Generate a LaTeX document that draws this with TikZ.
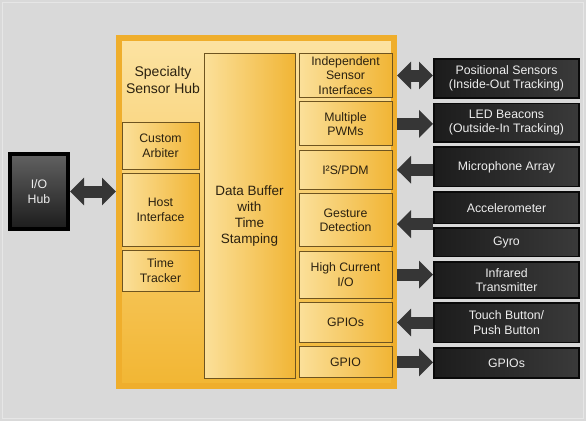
\documentclass[tikz,border=0pt]{standalone}
\usepackage{fontspec}
\setmainfont{Liberation Sans}
\usetikzlibrary{positioning, arrows.meta}
\definecolor{bggray}{HTML}{D9D9D9}
\definecolor{bgedge}{HTML}{E6E6E6}
\definecolor{hubedge}{HTML}{EFAE2C}
\definecolor{hubtop}{HTML}{FCE3A2}
\definecolor{hubbottom}{HTML}{F2B633}
\definecolor{blocklight}{HTML}{FBE09A}
\definecolor{blockdark}{HTML}{F1B535}
\definecolor{blockedge}{HTML}{6E5420}
\definecolor{blocktext}{HTML}{2B2110}
\definecolor{devleft}{HTML}{1C1C1C}
\definecolor{devright}{HTML}{3A3A3A}
\definecolor{devedge}{HTML}{0A0A0A}
\definecolor{devtext}{HTML}{EEEEEE}
\definecolor{arrowdark}{HTML}{363636}

\begin{document}
\begin{tikzpicture}[
    x=1pt, y=-1pt,
    node distance=3.5pt,
    every node/.style={rectangle, inner sep=0pt, align=center, font=\fontsize{12.3}{14.5}\selectfont},
    hubpanel/.style={draw=hubedge, line width=6pt, top color=hubtop, bottom color=hubbottom},
    block/.style={draw=blockedge, line width=0.9pt, left color=blocklight, right color=blockdark, text=blocktext},
    sideblock/.style={block, minimum width=77pt},
    portblock/.style={block, minimum width=93pt},
    device/.style={draw=devedge, line width=1.6pt, left color=devleft, right color=devright, text=devtext, minimum width=145.4pt},
    iohub/.style={draw=black, line width=4pt, top color=devright!80!white, bottom color=devleft, text=devtext},
    bus/.style={line width=12pt, draw=arrowdark},
    outarrow/.style={bus, -{Triangle[length=14pt, width=27pt]}},
    biarrow/.style={bus, {Triangle[length=14pt, width=27pt]}-{Triangle[length=14pt, width=27pt]}}
]
\useasboundingbox (0,0) rectangle (586,421);
\fill[bggray] (0,0) rectangle (586,421);
\draw[bgedge, line width=1pt] (2.5,2.5) rectangle (583.5,418.5);

% sensor hub
\node[hubpanel, minimum width=275pt, minimum height=348pt] (hub) at (256.5,212) {};
\node[text=blocktext, font=\fontsize{14}{17}\selectfont] (title) at (163,80) {Specialty\\Sensor Hub};

\node[sideblock, minimum height=47pt] (arb) at (160.5,146) {Custom\\Arbiter};
\node[sideblock, minimum height=73pt, below=3pt of arb] (host) {Host\\Interface};
\node[sideblock, minimum height=41pt, below=3pt of host] (tt) {Time\\Tracker};

\node[block, minimum width=91pt, minimum height=325pt, font=\fontsize{13.5}{16.3}\selectfont] (buf) at (249.5,216) {Data Buffer\\with\\Time\\Stamping};

\node[portblock, minimum height=44pt] (p1) at (345.5,75.5) {Independent\\Sensor\\Interfaces};
\node[portblock, minimum height=44pt, below=of p1] (p2) {Multiple\\PWMs};
\node[portblock, minimum height=39pt, below=of p2] (p3) {I²S/PDM};
\node[portblock, minimum height=53pt, below=of p3] (p4) {Gesture\\Detection};
\node[portblock, minimum height=47pt, below=of p4] (p5) {High Current\\I/O};
\node[portblock, minimum height=40pt, below=of p5] (p6) {GPIOs};
\node[portblock, minimum height=31pt, below=of p6] (p7) {GPIO};

% external devices
\node[device, minimum height=39.4pt] (e1) at (506.5,78.5) {Positional Sensors\\(Inside-Out Tracking)};
\node[device, minimum height=38.4pt, below=3.7pt of e1] (e2) {LED Beacons\\(Outside-In Tracking)};
\node[device, minimum height=39.4pt, below=3.7pt of e2] (e3) {Microphone Array};
\node[device, minimum height=31.4pt, below=3.7pt of e3] (e4) {Accelerometer};
\node[device, minimum height=28.4pt, below=3.2pt of e4] (e5) {Gyro};
\node[device, minimum height=36.4pt, below=3.7pt of e5] (e6) {Infrared\\Transmitter};
\node[device, minimum height=39.4pt, below=3.2pt of e6] (e7) {Touch Button/\\Push Button};
\node[device, minimum height=30.4pt, below=3.7pt of e7] (e8) {GPIOs};

\node[iohub, minimum width=58pt, minimum height=75pt] (io) at (39,191.5) {I/O\\Hub};

\draw[biarrow] (io.east) -- (io.east -| hub.west);
\draw[biarrow] (p1.east -| hub.east) -- (p1.east -| e1.west);
\draw[outarrow] (p2.east -| hub.east) -- (p2.east -| e2.west);
\draw[outarrow] (p3.east -| e3.west) -- (p3.east -| hub.east);
\draw[outarrow] (e4.south west) -- (e4.south west -| hub.east);
\draw[outarrow] (p5.east -| hub.east) -- (p5.east -| e6.west);
\draw[outarrow] (p6.east -| e7.west) -- (p6.east -| hub.east);
\draw[outarrow] (p7.east -| hub.east) -- (p7.east -| e8.west);

\end{tikzpicture}
\end{document}
